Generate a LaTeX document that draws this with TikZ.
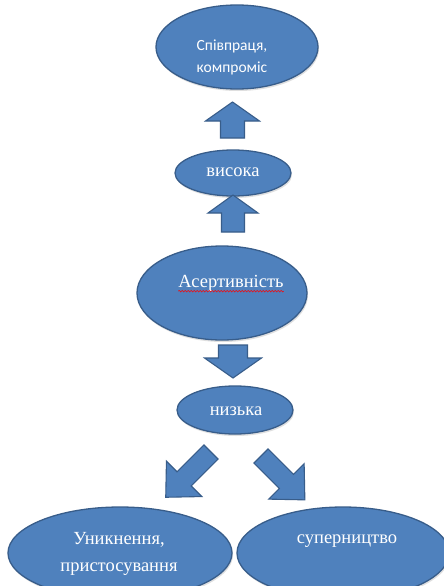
\documentclass[tikz,border=0pt]{standalone}
\usepackage{fontspec}
\setmainfont{Liberation Serif}
\newfontfamily\calibrifont{Carlito}
\usetikzlibrary{shapes.geometric,shadows,decorations.pathmorphing}
\definecolor{officeblue}{HTML}{4F81BD}
\definecolor{officeedge}{HTML}{385D8A}
\tikzset{
  oval/.style={ellipse, fill=officeblue, draw=officeedge, line width=1.3pt, inner sep=0pt,
    drop shadow={opacity=0.25, shadow xshift=1pt, shadow yshift=-2pt}},
  lbl/.style={text=white, align=center, inner sep=0pt, font=\fontsize{18.5}{27}\selectfont},
  toplbl/.style={text=white, align=center, inner sep=0pt, font=\calibrifont\fontsize{15.5}{22}\selectfont},
  barr/.style={fill=officeblue, draw=officeedge, line width=1.1pt, line join=miter}
}
% tail position, rotation, length, head length, shaft half width, head half width, name of tip
\newcommand\blockarr[7]{%
  \begin{scope}[shift={(#1)},rotate=#2]
    \draw[barr] (-#5,0) -- (-#5,#3-#4) -- (-#6,#3-#4) -- (0,#3) -- (#6,#3-#4) -- (#5,#3-#4) -- (#5,0) -- cycle;
    \coordinate (#7) at (0,#3);
  \end{scope}}
\begin{document}
\begin{tikzpicture}[x=1pt,y=1pt]
\useasboundingbox (0,0) rectangle (444,-586);
\clip (0,0) rectangle (444,-586);
\fill[white] (0,0) rectangle (444,-586);

% ellipses
\node[oval, minimum width=162, minimum height=84] (coop) at (237,-47) {};
\node[oval, minimum width=116, minimum height=46] (high) at (233,-173) {};
\node[oval, minimum width=170, minimum height=94] (assert) at (222,-293) {};
\node[oval, minimum width=116, minimum height=48] (low) at (235,-410) {};
\node[oval, minimum width=224, minimum height=92] (avoid) at (120,-553) {};
\node[oval, minimum width=212, minimum height=92] (rival) at (343,-553) {};

% texts
\node[toplbl] (tcoop) at (232,-57) {Співпраця,\\компроміс};
\node[lbl] (thigh) at (233,-172) {висока};
\node[lbl] (tassert) at (231,-283) {Асертивність};
\node[lbl] (tlow) at (236,-411) {низька};
\node[lbl] (tavoid) at (119,-554) {Уникнення,\\пристосування};
\node[lbl] (trival) at (347,-541) {суперництво};
\draw[red, line width=0.5pt, decorate, decoration={snake, amplitude=0.8pt, segment length=3pt}]
  ([yshift=-4pt]tassert.base west) -- ([yshift=-4pt]tassert.base east);

% block arrows
\blockarr{232.5,-138}{0}{36}{19}{12}{27}{a1}
\blockarr{233,-232}{0}{37}{18}{11.5}{25}{a2}
\blockarr{233,-345}{180}{33}{20}{14.5}{28.5}{a3}
\blockarr{211,-452}{135}{64}{26}{10}{25}{a4}
\blockarr{261,-456}{-135}{62}{26}{10}{25}{a5}
\end{tikzpicture}
\end{document}
